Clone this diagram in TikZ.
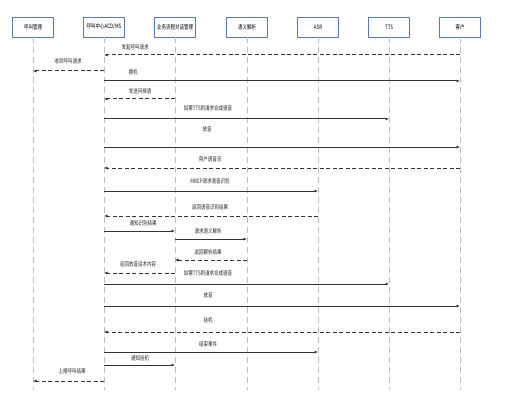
\documentclass[tikz,border=0pt]{standalone}
\usepackage{fontspec}
\newfontfamily\cjk[FakeStretch=0.75]{Noto Sans CJK SC}
\usetikzlibrary{arrows.meta}

\definecolor{headline}{HTML}{5A78AE}
\definecolor{msgline}{HTML}{333333}
\definecolor{lifeline}{HTML}{BDBDBD}

\begin{document}
\begin{tikzpicture}[
  x=1pt, y=-1pt,
  line cap=butt, line join=round,
  every node/.style={font=\cjk\fontsize{6}{7}\selectfont, inner sep=1pt},
  head/.style={draw=headline, line width=0.8pt, fill=white, minimum width=41pt, minimum height=20pt, inner sep=0pt},
  life/.style={draw=lifeline, line width=0.8pt, dash pattern=on 6pt off 4pt},
  call/.style={draw=msgline, line width=1pt, -{Latex[length=3.5pt,width=3pt]}},
  reply/.style={call, dash pattern=on 4pt off 2.5pt},
  lbl/.style={text=black!85},
]
\useasboundingbox (0,0) rectangle (510,406);
% participants
\node[head] (mgr) at (33,27) {呼叫管理};
\node[head] (acd) at (104,27) {呼叫中心ACD/MS};
\node[head] (flow) at (175,27) {业务流程对话管理};
\node[head] (nlu) at (247,27) {语义解析};
\node[head] (asr) at (318,27) {ASR};
\node[head] (tts) at (389,27) {TTS};
\node[head] (cust) at (460,27) {客户};
\coordinate (bottom) at (0,390);
\draw[life] (mgr.south) -- (mgr |- bottom);
\draw[life] (acd.south) -- (acd |- bottom);
\draw[life] (flow.south) -- (flow |- bottom);
\draw[life] (nlu.south) -- (nlu |- bottom);
\draw[life] (asr.south) -- (asr |- bottom);
\draw[life] (tts.south) -- (tts |- bottom);
\draw[life] (cust.south) -- (cust |- bottom);
% messages
\coordinate (m1) at (0,55);
\draw[reply] (cust |- m1) -- (acd |- m1);
\node[lbl] (t1) at (135,47) {发起呼叫请求};
\coordinate (m2) at (0,71);
\draw[reply] (acd |- m2) -- (mgr |- m2);
\node[lbl] (t2) at (68,61) {收到呼叫请求};
\coordinate (m3) at (0,81);
\draw[call] (acd |- m3) -- (cust |- m3);
\node[lbl] (t3) at (133,72) {摘机};
\coordinate (m4) at (0,99);
\draw[reply] (flow |- m4) -- (acd |- m4);
\node[lbl] (t4) at (140,91) {发送问候语};
\coordinate (m5) at (0,119);
\draw[call] (acd |- m5) -- (tts |- m5);
\node[lbl] (t5) at (208,108) {如需TTS则请求合成语音};
\coordinate (m6) at (0,147);
\draw[call] (acd |- m6) -- (cust |- m6);
\node[lbl] (t6) at (207,129) {放音};
\coordinate (m7) at (0,168);
\draw[reply] (cust |- m7) -- (acd |- m7);
\node[lbl] (t7) at (210,159) {用户语音流};
\coordinate (m8) at (0,191);
\draw[call] (acd |- m8) -- (asr |- m8);
\node[lbl] (t8) at (210,181) {MRCP请求语音识别};
\coordinate (m9) at (0,216);
\draw[reply] (asr |- m9) -- (acd |- m9);
\node[lbl] (t9) at (210,207) {返回语音识别结果};
\coordinate (m10) at (0,231);
\draw[call] (acd |- m10) -- (flow |- m10);
\node[lbl] (t10) at (143,223) {通知识别结果};
\coordinate (m11) at (0,239);
\draw[call] (flow |- m11) -- (nlu |- m11);
\node[lbl] (t11) at (208,231) {请求语义解析};
\coordinate (m12) at (0,260);
\draw[reply] (nlu |- m12) -- (flow |- m12);
\node[lbl] (t12) at (208,252) {返回解析结果};
\coordinate (m13) at (0,273);
\draw[reply] (flow |- m13) -- (acd |- m13);
\node[lbl] (t13) at (138,264) {返回放音话术内容};
\coordinate (m14) at (0,284);
\draw[call] (acd |- m14) -- (tts |- m14);
\node[lbl] (t14) at (208,273) {如需TTS则请求合成语音};
\coordinate (m15) at (0,306);
\draw[call] (acd |- m15) -- (cust |- m15);
\node[lbl] (t15) at (208,295) {放音};
\coordinate (m16) at (0,332);
\draw[reply] (cust |- m16) -- (acd |- m16);
\node[lbl] (t16) at (208,320) {挂机};
\coordinate (m17) at (0,352);
\draw[call] (acd |- m17) -- (asr |- m17);
\node[lbl] (t17) at (208,344) {结束事件};
\coordinate (m18) at (0,365);
\draw[call] (acd |- m18) -- (flow |- m18);
\node[lbl] (t18) at (140,358) {通知挂机};
\coordinate (m19) at (0,381);
\draw[reply] (acd |- m19) -- (mgr |- m19);
\node[lbl] (t19) at (72,371) {上报呼叫结果};
\end{tikzpicture}
\end{document}
